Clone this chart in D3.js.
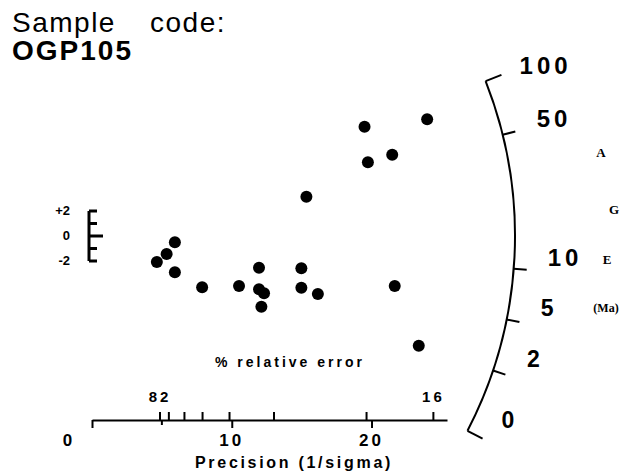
<!DOCTYPE html>
<html>
<head>
<meta charset="utf-8">
<script src="https://cdn.jsdelivr.net/npm/d3@7"></script>
<style>
    body {margin: 0; background: #fff;}
    text {font-family: "Liberation Sans", Arial, sans-serif; fill: #000;}
    .serif {font-family: "Liberation Serif", "Times New Roman", serif; font-weight: bold;}
</style>
</head>
<body>
<div id="body"></div>
<script>
// single grain ages: x = precision (1/sigma), y = standardised estimate
var precision = [4.64, 5.34, 5.93, 5.93, 7.88, 10.52, 11.95, 11.95, 12.31, 12.12, 14.98, 14.98, 16.16, 15.34, 19.5, 23.98, 19.74, 21.48, 21.66, 23.38];
var standardized = [-2.08, -1.44, -0.50, -2.90, -4.10, -4.00, -2.54, -4.26, -4.58, -5.66, -2.58, -4.14, -4.64, 3.14, 8.74, 9.34, 5.90, 6.50, -4.00, -8.78];

var precisionTicks = [0, 10, 20];
var precisionMinor = [5];
var relErrorTicks = [20.7, 18.3, 15.2, 12.7, 10.2, 7.7, 5.1, 4.1];
var relErrorLabels = ['82', '', '', '', '', '', '', '16'];
var ageTicks = [0, 2, 5, 10, 50, 100];
var barTicks = [-2, -1, 0, 1, 2];
var barLabelValues = [2, 0, -2];
var barLabels = ['+2', '0', '-2'];

var width = 623, height = 473;
var R = 423;

var svg = d3.select('#body').append('svg')
    .attr('width', width)
    .attr('height', height);

var x = d3.scaleLinear().domain([0, 25.4]).range([92, 447]);
var y = d3.scaleLinear().domain([0, 2]).range([236, 211]);
var relScale = d3.scalePow().exponent(-1).domain([4, 20]).range([x(25), x(5)]);
// age (Ma) -> slope of the radial line in data units
var ageScale = d3.scaleSymlog().constant(1.5).domain([0, 100]).range([-0.58, 0.44]);

var cx = x(0), cy = y(0);
function angle(age) {
    var s = ageScale(age);
    return Math.atan2(y(s) - y(0), x(1) - x(0));
}

// title
svg.append('text').attr('x', 12).attr('y', 32).style('font-size', '28px').style('letter-spacing', '1.5px').text('Sample');
svg.append('text').attr('x', 150).attr('y', 32).style('font-size', '28px').style('letter-spacing', '1.5px').text('code:');
svg.append('text').attr('x', 12).attr('y', 60).style('font-size', '28px').style('font-weight', 'bold').style('letter-spacing', '2px').text('OGP105');

// +-2 bar
var bar = svg.append('g').attr('stroke', '#000').attr('stroke-width', 3);
bar.append('line').attr('x1', cx - 3).attr('x2', cx - 3).attr('y1', y(2)).attr('y2', y(-2));
bar.selectAll('line.tick').data(barTicks).enter().append('line')
    .attr('class', 'tick')
    .attr('x1', cx - 3)
    .attr('x2', d => d === 0 ? cx + 11 : cx + 5)
    .attr('y1', d => y(d))
    .attr('y2', d => y(d));
svg.selectAll('text.bar-label').data(barLabelValues).enter().append('text')
    .attr('class', 'bar-label')
    .attr('x', 70)
    .attr('y', d => y(d) - 1)
    .attr('text-anchor', 'end')
    .attr('dominant-baseline', 'central')
    .style('font-size', '13px')
    .style('font-weight', 'bold')
    .text((d, i) => barLabels[i]);

// radial age arc
var p = d3.path();
p.arc(cx, cy, R, angle(100), angle(0), false);
svg.append('path').attr('d', p.toString()).attr('fill', 'none').attr('stroke', '#000').attr('stroke-width', 2);

svg.selectAll('line.age-tick').data(ageTicks).enter().append('line')
    .attr('class', 'age-tick')
    .attr('x1', d => cx + R * Math.cos(angle(d)))
    .attr('y1', d => cy + R * Math.sin(angle(d)))
    .attr('x2', d => cx + (R + (d === 0 || d === 100 ? 17 : 13)) * Math.cos(angle(d)))
    .attr('y2', d => cy + (R + (d === 0 || d === 100 ? 17 : 13)) * Math.sin(angle(d)))
    .attr('stroke', '#000')
    .attr('stroke-width', 2);

svg.selectAll('text.age-label').data(ageTicks).enter().append('text')
    .attr('class', 'age-label')
    .attr('x', d => cx + R * Math.cos(angle(d)) + 34)
    .attr('y', d => cy + R * Math.sin(angle(d)) - (d >= 50 ? 16 : 11))
    .attr('dominant-baseline', 'central')
    .style('font-size', d => d >= 10 ? '24px' : '23px')
    .style('font-weight', 'bold')
    .style('letter-spacing', d => d >= 10 ? '4px' : '0px')
    .text(d => d);

svg.append('text').attr('class', 'serif').attr('x', 601).attr('y', 152).attr('text-anchor', 'middle').attr('dominant-baseline', 'central').style('font-size', '13px').text('A');
svg.append('text').attr('class', 'serif').attr('x', 614).attr('y', 209).attr('text-anchor', 'middle').attr('dominant-baseline', 'central').style('font-size', '13px').text('G');
svg.append('text').attr('class', 'serif').attr('x', 607).attr('y', 259).attr('text-anchor', 'middle').attr('dominant-baseline', 'central').style('font-size', '13px').text('E');
svg.append('text').attr('class', 'serif').attr('x', 606).attr('y', 308).attr('text-anchor', 'middle').attr('dominant-baseline', 'central').style('font-size', '12px').text('(Ma)');

// points
svg.selectAll('circle.dot').data(precision).enter().append('circle')
    .attr('class', 'dot')
    .attr('cx', d => x(d))
    .attr('cy', (d, i) => y(standardized[i]))
    .attr('r', 6)
    .attr('fill', '#000');

// precision axis
var axisY = 420;
var bottomAxis = d3.axisBottom(x).tickValues(precisionTicks).tickSize(8).tickSizeOuter(0).tickFormat('');
var gb = svg.append('g').attr('transform', `translate(0, ${axisY})`).call(bottomAxis);
gb.selectAll('path, line').attr('stroke-width', 2);
gb.selectAll('line.minor').data(precisionMinor).enter().append('line')
    .attr('class', 'minor')
    .attr('x1', d => x(d)).attr('x2', d => x(d))
    .attr('y1', 0).attr('y2', 5)
    .attr('stroke', '#000').attr('stroke-width', 2);

svg.selectAll('text.prec-label').data(precisionTicks).enter().append('text')
    .attr('class', 'prec-label')
    .attr('x', d => d === 0 ? x(d) - 23 : x(d))
    .attr('y', 440)
    .attr('text-anchor', 'middle')
    .attr('dominant-baseline', 'central')
    .style('font-size', '17px')
    .style('font-weight', 'bold')
    .style('letter-spacing', '3px')
    .text(d => d);

// relative error axis
var topAxis = d3.axisTop(relScale).tickValues(relErrorTicks).tickSize(8).tickPadding(10).tickFormat((d, i) => relErrorLabels[i]);
var gt = svg.append('g').attr('transform', `translate(0, ${axisY})`).call(topAxis);
gt.select('.domain').remove();
gt.selectAll('line').attr('stroke-width', 2);
gt.selectAll('text')
    .attr('font-family', null).attr('font-size', null)
    .style('font-size', '15px')
    .style('font-weight', 'bold')
    .style('letter-spacing', '3px');

svg.append('text').attr('x', 290).attr('y', 362)
    .attr('text-anchor', 'middle').attr('dominant-baseline', 'central')
    .style('font-size', '14px').style('font-weight', 'bold').style('letter-spacing', '3px')
    .text('% relative error');

svg.append('text').attr('x', 294).attr('y', 468)
    .attr('text-anchor', 'middle')
    .style('font-size', '16px').style('font-weight', 'bold').style('letter-spacing', '2.7px')
    .text('Precision (1/sigma)');
</script>
</body>
</html>
